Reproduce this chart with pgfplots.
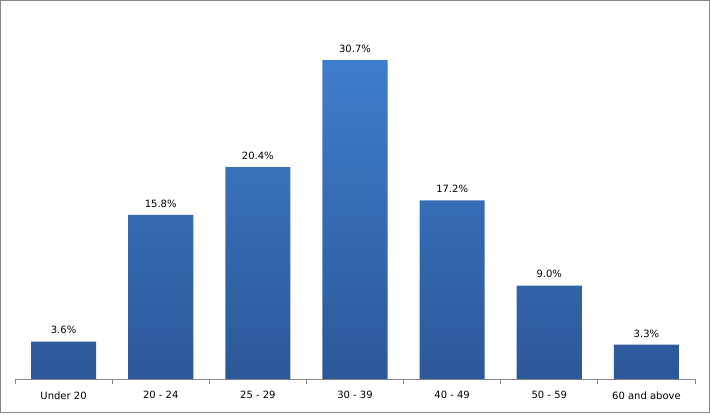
\documentclass[border=0pt]{standalone}
\usepackage{pgfplots}
\pgfplotsset{compat=1.18}
\usepackage{fontspec}
\setmainfont{DejaVu Sans}
\definecolor{bartop}{HTML}{3E7DCC}
\definecolor{barbot}{HTML}{2C5898}
\definecolor{axgray}{HTML}{868686}
\begin{document}
\begin{tikzpicture}[x=1pt,y=1pt]
\useasboundingbox (0,0) rectangle (710,413);
\draw[axgray, line width=1.2pt] (0.6,0.6) rectangle (709.4,412.4);
\begin{axis}[
  at={(15pt,34pt)}, anchor=south west,
  scale only axis, width=680pt, height=374pt,
  xmin=-0.5, xmax=6.5, ymin=0, ymax=36,
  axis x line=bottom, axis y line=none,
  axis line style={axgray, line width=0.8pt, -},
  xtick={0,...,6},
  xticklabels={Under 20,20 - 24,25 - 29,30 - 39,40 - 49,50 - 59,60 and above},
  major tick length=0pt,
  minor xtick={-0.5,0.5,...,6.5},
  minor tick length=5pt,
  tick align=outside,
  minor tick style={axgray, line width=0.8pt},
  xticklabel style={font=\fontsize{10}{12}\selectfont, yshift=-9pt},
  /pgf/number format/assume math mode=true,
  ybar, bar width=0.67,
  nodes near coords={\pgfmathprintnumber[fixed,precision=1,fixed zerofill]{\pgfplotspointmeta}\%},
  every node near coord/.append style={font=\fontsize{10}{12}\selectfont, black, yshift=4pt},
]
\addplot[draw=none, top color=bartop, bottom color=barbot] coordinates {
(0,3.6) (1,15.8) (2,20.4) (3,30.7) (4,17.2) (5,9.0) (6,3.3)};
\end{axis}
\end{tikzpicture}
\end{document}
